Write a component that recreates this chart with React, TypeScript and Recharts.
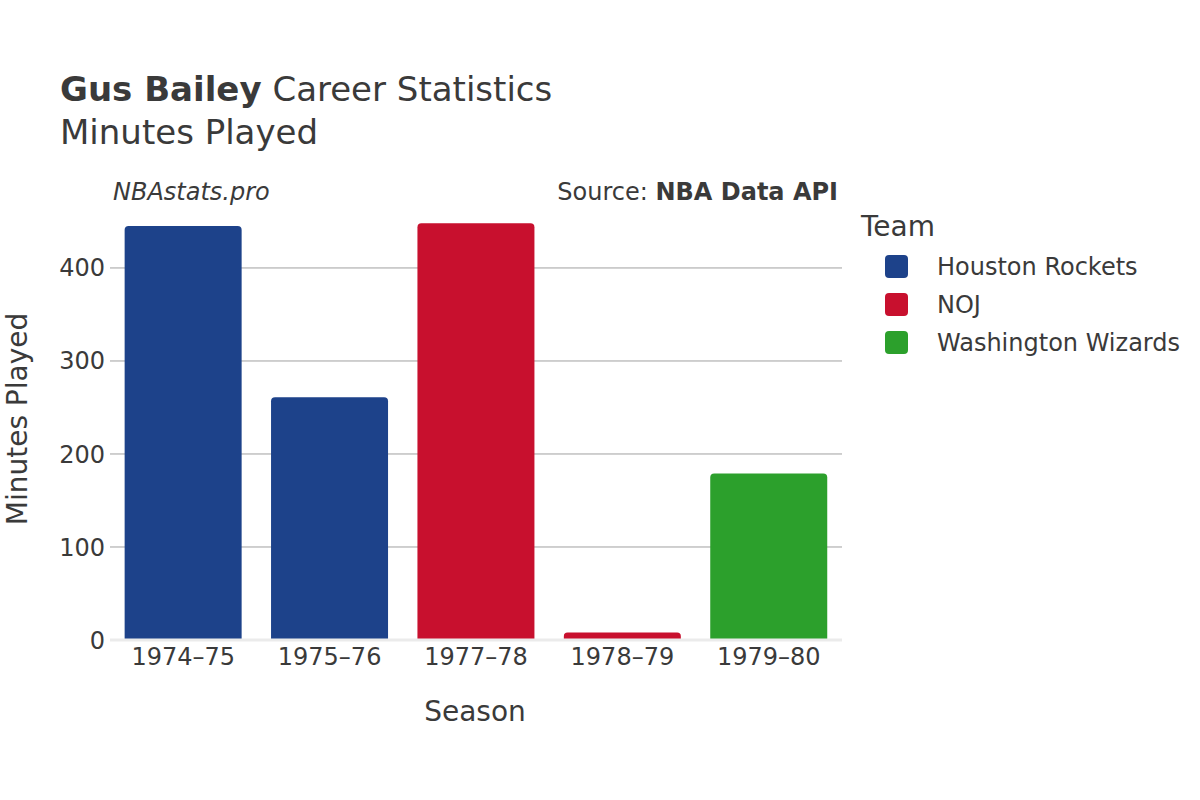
import React from "react";
import { BarChart, Bar, XAxis, YAxis, CartesianGrid, ReferenceLine, Cell } from "recharts";

// Gus Bailey - minutes played per season
const seasons = ["1974–75", "1975–76", "1977–78", "1978–79", "1979–80"];
const minutesPlayed = [445, 261, 448, 8, 179];
const seasonTeams = ["Houston Rockets", "Houston Rockets", "NOJ", "NOJ", "Washington Wizards"];

const teamNames = ["Houston Rockets", "NOJ", "Washington Wizards"];
const teamColors = ["#1d428a", "#c8102e", "#2ca02c"];

const yTicks = [0, 100, 200, 300, 400];

const FONT = "'DejaVu Sans', Verdana, sans-serif";
const TEXT = "#3a3a3a";

const colorFor = (team: string) => teamColors[teamNames.indexOf(team)];

export default function App() {
  const chartData = seasons.map((season, i) => ({
    season,
    minutes: minutesPlayed[i],
    team: seasonTeams[i],
  }));

  return (
    <div style={{ position: "relative", width: 1200, height: 800, fontFamily: FONT, background: "#fff" }}>
      <style>{"body{margin:0}"}</style>

      <BarChart
        width={1200}
        height={800}
        data={chartData}
        margin={{ top: 201, right: 358, bottom: 80, left: 0 }}
        barCategoryGap="10%"
      >
        <CartesianGrid vertical={false} stroke="#a0a0a0" strokeWidth={1} horizontalValues={[100, 200, 300, 400]} />
        <XAxis
          dataKey="season"
          axisLine={false}
          tickLine={false}
          tickSize={0}
          height={80}
          tick={{ fontSize: 24, fill: TEXT, fontFamily: FONT }}
          tickMargin={8}
        />
        <YAxis
          width={110}
          domain={[0, 472]}
          ticks={yTicks}
          axisLine={false}
          tickLine={false}
          tickSize={0}
          tick={{ fontSize: 24, fill: TEXT, fontFamily: FONT }}
          tickMargin={5}
        />
        <ReferenceLine y={0} stroke="#ebebeb" strokeWidth={3} />
        <Bar dataKey="minutes" isAnimationActive={false} radius={[4, 4, 0, 0]}>
          {chartData.map((d, i) => (
            <Cell key={`cell-${i}`} fill={colorFor(d.team)} />
          ))}
        </Bar>
      </BarChart>

      {/* titles, axis titles, legend */}
      <svg
        width={1200}
        height={800}
        style={{ position: "absolute", left: 0, top: 0, pointerEvents: "none" }}
        fontFamily={FONT}
      >
        <text x={60} y={101} fontSize={34} fill={TEXT}>
          <tspan fontWeight="bold">Gus Bailey</tspan>
          <tspan> Career Statistics</tspan>
        </text>
        <text x={60} y={144} fontSize={34} fill={TEXT}>
          Minutes Played
        </text>

        <text x={113} y={200} fontSize={24} fontStyle="italic" fill={TEXT}>
          NBAstats.pro
        </text>
        <text x={838} y={200} fontSize={24} fill={TEXT} textAnchor="end">
          <tspan>Source: </tspan>
          <tspan fontWeight="bold">NBA Data API</tspan>
        </text>

        <text x={475} y={721} fontSize={28} fill={TEXT} textAnchor="middle">
          Season
        </text>
        <text
          x={0}
          y={0}
          fontSize={28}
          fill={TEXT}
          textAnchor="middle"
          transform="translate(27,419) rotate(-90)"
        >
          Minutes Played
        </text>

        <text x={861} y={236} fontSize={28} fill={TEXT}>
          Team
        </text>
        {teamNames.map((name, i) => (
          <g key={name}>
            <rect x={885} y={255 + i * 38} width={23} height={23} rx={4} fill={teamColors[i]} />
            <text x={937} y={267 + i * 38} fontSize={24} fill={TEXT} dominantBaseline="central">
              {name}
            </text>
          </g>
        ))}
      </svg>
    </div>
  );
}
